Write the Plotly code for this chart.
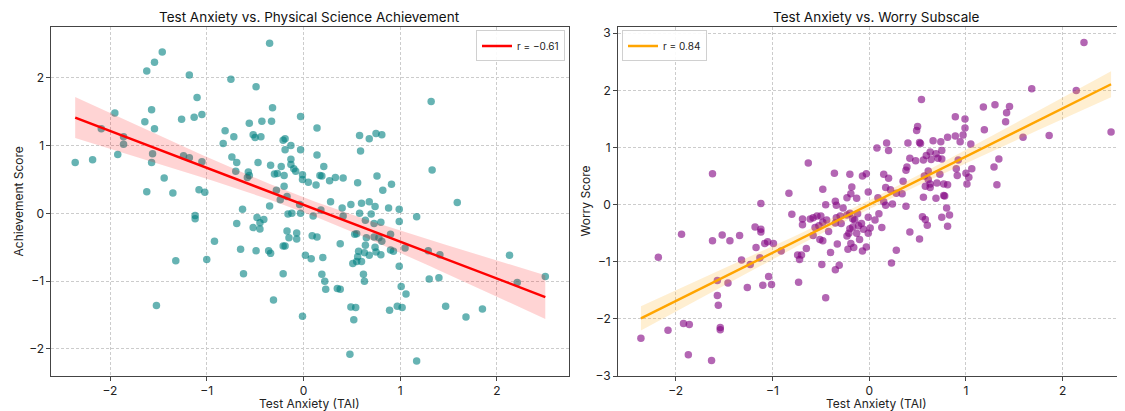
import numpy as np
import plotly.graph_objects as go

# ---------------- data ----------------
achv_tai = [-2.36, -2.18, -2.09, -1.95, -1.86, -1.86, -1.92, -1.62, -1.54, -1.46,
            -1.64, -1.57, -1.54, -1.56, -1.57, -1.44, -1.62, -1.35, -1.18, -1.10,
            -1.13, -1.05, -1.26, -1.24, -1.18, -1.05, -1.08, -1.02, -0.83, -0.81,
            -0.72, -0.75, -0.74, -0.69, -0.70, -0.57, -0.58, -0.56, -0.56, -0.52,
            -0.50, -0.44, -0.49, -0.47, -0.43, -0.35, -0.33, -0.32, -0.34, -0.30,
            -0.23, -0.20, -0.27, -0.19, -0.21, -0.19, -0.13, -0.13, -0.13, -0.10,
            -0.08, -0.20, -0.28, -0.24, -0.17, -0.35, -0.63, -0.03, -0.03, 0.14,
            0.14, -0.01, -0.01, 0.05, 0.13, 0.17, 0.19, 0.21, 0.27, 0.33,
            -0.04, 0.28, 0.10, 0.18, -0.16, -0.12, -0.03, -0.48, -0.41, -0.45,
            -0.52, -0.45, -0.69, -0.17, -0.07, -0.15, -0.07, 0.09, 0.14, -0.21,
            -0.19, -0.65, -0.49, -0.36, -0.34, 0.02, 0.08, 0.20, -0.62, -0.21,
            0.19, 0.22, 0.23, 0.35, 0.38, -0.31, -0.01, -1.12, -1.12, -0.92,
            -1.32, -1.00, -1.52, 1.32, 0.58, 0.68, 0.75, 0.81, 0.59, 1.33,
            0.41, 0.56, 0.76, 0.91, 0.82, 0.40, 0.49, 0.60, 0.68, 0.74,
            0.88, 0.99, 1.17, 0.41, 0.58, 0.70, 0.64, 0.73, 0.80, 0.99,
            0.53, 0.55, 0.65, 0.73, 0.78, 0.81, 0.90, 0.38, 0.64, 0.74,
            0.90, 0.93, 1.05, 0.57, 0.63, 0.75, 0.56, 0.68, 0.80, 0.51,
            0.55, 0.60, 1.29, 1.41, 0.99, 0.62, 0.63, 1.30, 1.40, 1.01,
            1.06, 0.49, 0.54, 0.52, 0.89, 0.97, 1.02, 1.47, 1.59, 2.13,
            2.50, 2.21, 1.68, 1.85, 0.48, 1.17]
achv_score = [0.75, 0.79, 1.25, 1.48, 1.13, 1.02, 0.87, 2.10, 2.23, 2.38,
              1.35, 1.53, 1.25, 0.88, 0.75, 0.52, 0.32, 0.30, 2.04, 1.71,
              1.42, 1.46, 1.39, 0.85, 0.82, 0.76, 0.35, 0.31, 1.03, 1.22,
              1.13, 1.98, 0.83, 0.75, 0.62, 0.61, 0.53, 0.56, 1.33, 1.16,
              1.12, 1.13, 1.87, 0.75, 1.36, 2.51, 1.36, 1.56, 0.71, 0.58,
              0.69, 0.56, 0.59, 0.94, 1.08, 1.10, 1.00, 0.80, 0.72, 0.66,
              0.62, 0.40, 0.34, 0.20, 0.25, 0.11, 0.06, 1.43, 0.94, 1.26,
              0.86, 0.57, 0.50, 0.46, 0.42, 0.56, 0.55, 0.69, 0.48, 0.53,
              0.13, 0.17, -0.04, 0.05, -0.01, 0.00, 0.00, -0.06, -0.09, -0.14,
              -0.21, -0.23, -0.15, -0.26, -0.29, -0.36, -0.38, -0.33, -0.35, -0.48,
              -0.48, -0.53, -0.55, -0.55, -0.59, -0.62, -0.67, -0.65, -0.89, -0.89,
              -0.90, -1.00, -1.12, -1.11, -1.12, -1.28, -1.52, -0.03, -0.08, -0.41,
              -0.70, -0.68, -1.36, 1.65, 1.15, 1.10, 1.18, 1.16, 0.92, 0.64,
              0.52, 0.45, 0.55, 0.43, 0.34, 0.08, 0.13, 0.15, 0.17, 0.10,
              0.08, 0.06, -0.05, -0.04, 0.00, -0.01, -0.10, -0.15, -0.13, -0.12,
              -0.31, -0.30, -0.36, -0.35, -0.36, -0.41, -0.31, -0.45, -0.47, -0.50,
              -0.54, -0.56, -0.51, -0.56, -0.58, -0.57, -0.64, -0.62, -0.61, -0.74,
              -0.71, -0.71, -0.55, -0.61, -0.78, -0.90, -1.00, -0.97, -0.95, -1.08,
              -1.19, -1.38, -1.39, -1.57, -1.43, -1.37, -1.39, -1.37, 0.16, -0.62,
              -0.93, -1.02, -1.53, -1.41, -2.08, -2.18]

worry_tai = [-1.62, -1.12, -0.83, -0.63, -0.48, -0.45, -0.36, -0.35, -0.34, -0.27,
             -0.20, -0.18, -0.19, -0.23, -0.13, -0.07, -0.03, 0.08, 0.18, 0.20,
             0.15, 0.20, -0.01, 0.17, 0.22, 0.09, 0.15, 0.17, 0.24, -0.80,
             -0.69, -0.69, -0.61, -0.58, -0.54, -0.50, -0.56, -0.52, -0.48, -0.44,
             -0.58, -0.42, -0.51, -0.48, -0.34, -0.30, -0.23, -0.20, -0.35, -0.29,
             -0.17, -0.15, -0.12, -0.20, -0.17, -0.11, -0.08, -0.06, -0.01, 0.01,
             -0.01, 0.10, 0.06, 0.13, -0.23, -0.21, -0.13, -0.10, -0.33, -0.19,
             -0.22, -0.16, -0.07, -0.03, -0.40, -0.65, -0.74, -0.70, -0.72, -0.91,
             -0.49, -0.31, -0.35, -0.73, -0.45, 0.28, 0.23, 0.54, 0.89, 0.99,
             1.18, 1.30, 1.42, 1.45, 0.50, 0.49, 0.99, 1.41, 1.19, 0.40,
             0.52, 0.53, 0.66, 0.74, 0.81, 0.89, 0.97, 0.94, 1.05, 0.42,
             0.48, 0.56, 0.59, 0.63, 0.69, 0.75, 0.64, 0.71, 0.75, 0.39,
             0.38, 0.92, 1.34, 1.29, 1.32, 1.06, 1.00, 1.03, 1.01, 0.90,
             0.91, 0.61, 0.73, 0.57, 0.61, 0.35, 0.58, 0.63, 0.63, 0.70,
             0.77, 0.81, 0.28, 0.34, 0.56, 0.69, 0.77, 0.78, 0.38, 0.80,
             0.55, 0.58, 0.60, 0.75, 0.83, 0.81, 0.42, 0.52, -1.18, -1.12,
             -1.12, -1.94, -1.62, -1.52, -1.44, -1.34, -1.17, -1.08, -1.05, -0.99,
             -1.13, -1.32, -2.18, -1.23, -1.57, -1.46, -1.04, -1.10, -1.01, -1.26,
             -1.57, -1.56, -1.54, -1.54, -1.92, -1.86, -2.08, -2.36, -1.87, -1.63,
             2.22, 1.68, 2.14, 2.50, 1.86, 1.59]
worry_score = [0.54, 0.02, 0.20, 0.73, 0.27, 0.00, 0.55, 0.06, -0.01, -0.06,
               0.53, 0.31, 0.19, 0.12, 0.11, 0.50, 0.54, 0.99, 1.08, 0.95,
               0.53, 0.46, 0.22, 0.30, 0.26, 0.12, 0.05, -0.01, 0.01, -0.17,
               -0.25, -0.35, -0.25, -0.23, -0.20, -0.20, -0.40, -0.37, -0.31, -0.27,
               -0.54, -0.47, -0.61, -0.63, -0.23, -0.20, -0.18, -0.15, -0.32, -0.33,
               -0.25, -0.27, -0.16, -0.42, -0.39, -0.37, -0.33, -0.43, -0.22, -0.41,
               -0.50, -0.16, -0.27, -0.40, -0.55, -0.50, -0.50, -0.61, -0.69, -0.68,
               -0.78, -0.75, -0.81, -0.74, -0.84, -0.77, -0.88, -0.88, -0.96, -0.81,
               -1.05, -1.06, -1.14, -1.36, -1.63, -0.80, -1.02, 1.84, 1.54, 1.50,
               1.71, 1.75, 1.61, 1.72, 1.37, 1.30, 1.34, 1.45, 1.31, 1.08,
               1.09, 1.07, 1.12, 1.10, 1.18, 1.20, 1.22, 1.10, 1.06, 0.81,
               0.77, 0.78, 0.86, 0.92, 0.89, 0.95, 0.79, 0.81, 0.80, 0.66,
               0.60, 0.78, 0.80, 0.66, 0.35, 0.63, 0.55, 0.48, 0.36, 0.63,
               0.51, 0.59, 0.53, 0.50, 0.44, 0.41, 0.32, 0.36, 0.30, 0.38,
               0.36, 0.35, 0.20, 0.19, 0.13, 0.11, 0.16, 0.15, -0.03, -0.06,
               -0.21, -0.26, -0.36, -0.22, -0.18, -0.38, -0.48, -0.60, -0.39, -0.43,
               -0.48, -0.52, -0.63, -0.53, -0.63, -0.54, -0.75, -0.68, -0.65, -0.68,
               -0.93, -0.97, -0.92, -1.05, -1.33, -1.37, -1.26, -1.41, -1.40, -1.45,
               -1.59, -1.76, -2.15, -2.19, -2.08, -2.10, -2.20, -2.34, -2.63, -2.73,
               2.84, 2.03, 2.00, 1.27, 1.21, 1.18]

titles = ["Test Anxiety vs. Physical Science Achievement", "Test Anxiety vs. Worry Subscale"]
x_label = "Test Anxiety (TAI)"
y_labels = ["Achievement Score", "Worry Score"]
legend_labels = ["r = −0.61", "r = 0.84"]
x_ticks = [-2, -1, 0, 1, 2]
y_ticks_left = [-2, -1, 0, 1, 2]
y_ticks_right = [-3, -2, -1, 0, 1, 2, 3]

# ---------------- helpers ----------------
def fit_ci(x, y, n_pts=100):
    x = np.asarray(x, float); y = np.asarray(y, float)
    n = len(x)
    b, a = np.polyfit(x, y, 1)
    xs = np.linspace(x.min(), x.max(), n_pts)
    yh = a + b * xs
    resid = y - (a + b * x)
    s = np.sqrt(np.sum(resid ** 2) / (n - 2))
    sxx = np.sum((x - x.mean()) ** 2)
    se = s * np.sqrt(1.0 / n + (xs - x.mean()) ** 2 / sxx)
    t = 1.972
    return xs, yh, yh - t * se, yh + t * se

# the page body has an 8px margin, so the figure is offset by OFF px
OFF = 8
W, H = 1125 - OFF, 411 - OFF
MT, MB = 27.3 - OFF, 35
pw = W

def px(p):
    return (p - OFF) / pw

d1 = [px(51), px(569)]
d2 = [px(617.7), 1.0]

fig = go.Figure()

def add_panel(x, y, col, band, line_col, xa, ya, legend, label):
    fig.add_trace(go.Scatter(x=x, y=y, mode="markers", xaxis=xa, yaxis=ya,
                             marker=dict(size=7.5, color=col, line=dict(width=0)),
                             showlegend=False, hoverinfo="skip"))
    xs, yh, lo, hi = fit_ci(x, y)
    fig.add_trace(go.Scatter(x=xs, y=hi, mode="lines", line=dict(width=0),
                             xaxis=xa, yaxis=ya, showlegend=False, hoverinfo="skip"))
    fig.add_trace(go.Scatter(x=xs, y=lo, mode="lines", line=dict(width=0),
                             fill="tonexty", fillcolor=band,
                             xaxis=xa, yaxis=ya, showlegend=False, hoverinfo="skip"))
    fig.add_trace(go.Scatter(x=xs, y=yh, mode="lines", line=dict(color=line_col, width=2.4),
                             xaxis=xa, yaxis=ya, name=label, legend=legend, showlegend=True))

add_panel(achv_tai, achv_score, "rgba(0,128,128,0.6)", "rgba(255,0,0,0.17)", "#ff0000",
          "x", "y", "legend", legend_labels[0])
add_panel(worry_tai, worry_score, "rgba(128,0,128,0.6)", "rgba(255,165,0,0.18)", "#ffa500",
          "x2", "y2", "legend2", legend_labels[1])

font_family = "Inter, Roboto, sans-serif"
axis_common = dict(showgrid=True, gridcolor="#cccccc", griddash="3px,2px", gridwidth=0.8,
                   zeroline=False, showline=True, linecolor="#444", linewidth=1.1,
                   mirror=True, ticks="outside", ticklen=3.5, tickcolor="#444",
                   automargin=False,
                   tickfont=dict(size=12, color="#222", family=font_family))

fig.update_layout(
    width=W, height=H, margin=dict(l=0, r=0, t=MT, b=MB, autoexpand=False),
    plot_bgcolor="white", paper_bgcolor="white",
    font=dict(family=font_family, color="#222"),
    xaxis=dict(domain=d1, range=[-2.61, 2.745], tickvals=x_ticks, anchor="y", **axis_common),
    yaxis=dict(domain=[0, 1], range=[-2.40, 2.75], tickvals=y_ticks_left, anchor="x", **axis_common),
    xaxis2=dict(domain=d2, range=[-2.60, 2.644], tickvals=x_ticks, anchor="y2", **axis_common),
    yaxis2=dict(domain=[0, 1], range=[-3.0, 3.11], tickvals=y_ticks_right, anchor="x2", **axis_common),
    legend=dict(x=px(565), xanchor="right", y=0.99, yanchor="top",
                bgcolor="rgba(255,255,255,0.9)", bordercolor="#d0d0d0", borderwidth=1,
                font=dict(size=10, color="#222"), itemwidth=30, tracegroupgap=0),
    legend2=dict(x=px(622), xanchor="left", y=0.99, yanchor="top",
                 bgcolor="rgba(255,255,255,0.9)", bordercolor="#d0d0d0", borderwidth=1,
                 font=dict(size=10, color="#222"), itemwidth=30, tracegroupgap=0),
    showlegend=True,
)

ann = []
for t, cx in zip(titles, (310, 876.7)):
    ann.append(dict(text=t, x=px(cx), y=1, xref="paper", yref="paper",
                    xanchor="center", yanchor="middle", yshift=10, borderpad=0,
                    showarrow=False,
                    font=dict(size=13.5, color="#111", family=font_family)))
for cx in (310, 876.7):
    ann.append(dict(text=x_label, x=px(cx), y=0, xref="paper", yref="paper",
                    xanchor="center", yanchor="top", yshift=-19, borderpad=0,
                    showarrow=False,
                    font=dict(size=12, color="#222", family=font_family)))
ann.append(dict(text=y_labels[0], x=px(18), y=0.5, xref="paper", yref="paper",
                textangle=-90, showarrow=False, xanchor="center", yanchor="middle",
                font=dict(size=12, color="#222", family=font_family)))
ann.append(dict(text=y_labels[1], x=px(585), y=0.5, xref="paper", yref="paper",
                textangle=-90, showarrow=False, xanchor="center", yanchor="middle",
                font=dict(size=12, color="#222", family=font_family)))
fig.update_layout(annotations=ann)

fig.write_html("out.html")
